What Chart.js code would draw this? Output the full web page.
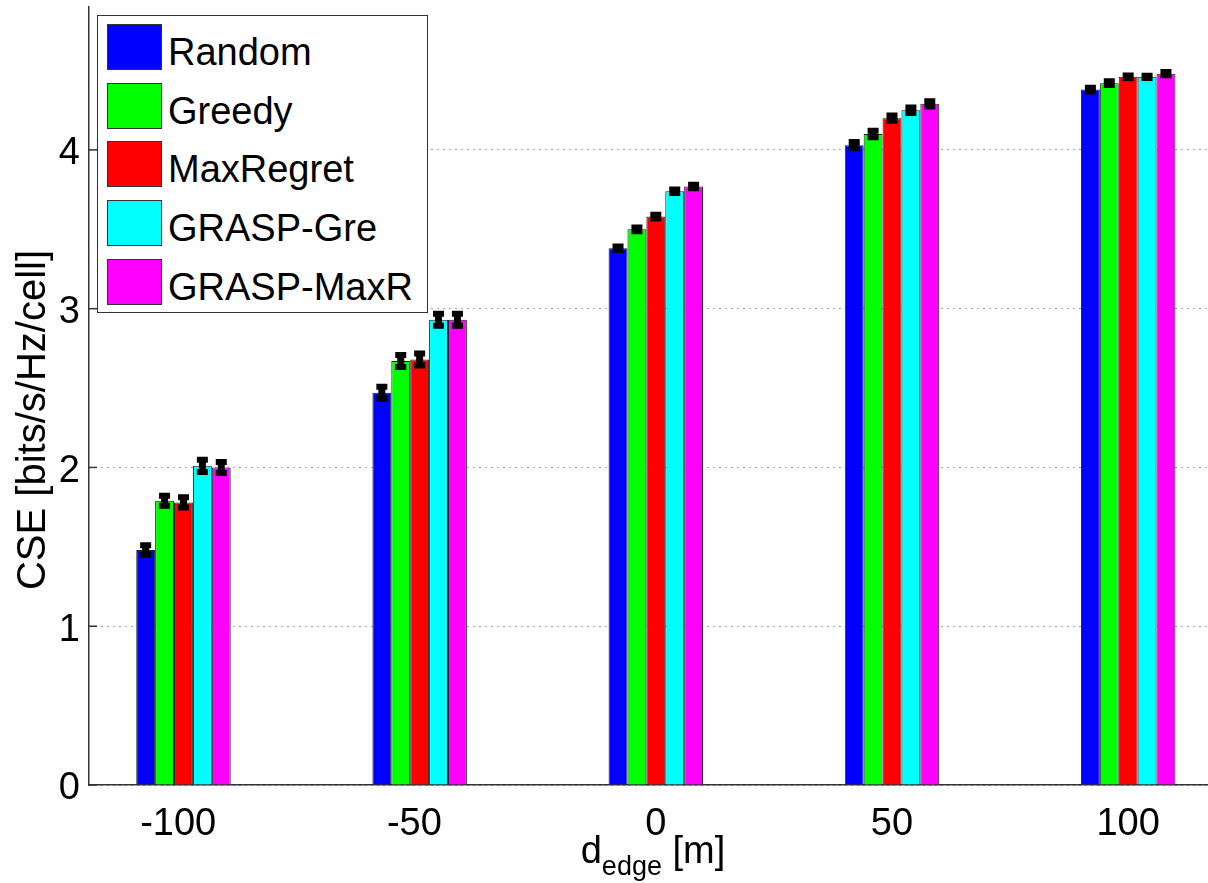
<!DOCTYPE html>
<html>
<head>
<meta charset="utf-8">
<script src="https://cdn.jsdelivr.net/npm/chart.js@4/dist/chart.umd.min.js"></script>
<style>
  html, body { margin: 0; padding: 0; background: #fff; overflow: hidden; }
  #wrap { position: relative; width: 1208px; height: 883px; overflow: hidden; font-family: "Liberation Sans", Arial, sans-serif; }
  #legend { position: absolute; left: 97px; top: 15px; width: 331px; height: 298px; box-sizing: border-box;
            border: 1.5px solid #333; background: #fff; padding-top: 8px; }
  .row { height: 58.7px; position: relative; }
  .sw { position: absolute; left: 9px; top: 0; width: 55px; height: 46px; box-sizing: border-box; border: 1.5px solid #333; }
  .lb { position: absolute; left: 70px; top: 5px; font-size: 38px; line-height: 46px; color: #000; white-space: nowrap; }
  #ytitle { position: absolute; left: -219px; top: 400px; width: 500px; height: 40px; line-height: 40px; font-size: 40px;
            text-align: center; transform: rotate(-90deg); color: #000; white-space: nowrap; }
  #xtitle { position: absolute; left: 503px; top: 831px; width: 300px; line-height: 38px; font-size: 38px; text-align: center; color: #000; white-space: nowrap; }
  #xtitle sub { font-size: 27px; vertical-align: -12px; line-height: 0; }
</style>
</head>
<body>
<div id="wrap">
  <canvas id="chart" width="1208" height="883"></canvas>
  <div id="legend"></div>
  <div id="ytitle">CSE [bits/s/Hz/cell]</div>
  <div id="xtitle">d<sub>edge</sub> [m]</div>
</div>
<script>
// ---------- data ----------
const categories = [-100, -50, 0, 50, 100];
const yTicks = [0, 1, 2, 3, 4];
const seriesNames = ['Random', 'Greedy', 'MaxRegret', 'GRASP-Gre', 'GRASP-MaxR'];
const seriesColors = ['#0000ff', '#00ff00', '#ff0000', '#00ffff', '#ff00ff'];

const random    = [1.48, 2.47, 3.38, 4.03, 4.38];
const greedy    = [1.79, 2.67, 3.50, 4.10, 4.42];
const maxRegret = [1.78, 2.68, 3.58, 4.20, 4.46];
const graspGre  = [2.01, 2.93, 3.74, 4.25, 4.46];
const graspMaxR = [2.00, 2.93, 3.77, 4.29, 4.48];

// half-width of the confidence intervals
const randomErr    = [0.030, 0.038, 0.011, 0.019, 0.012];
const greedyErr    = [0.031, 0.038, 0.012, 0.020, 0.012];
const maxRegretErr = [0.032, 0.038, 0.012, 0.016, 0.008];
const graspGreErr  = [0.038, 0.038, 0.011, 0.017, 0.007];
const graspMaxRErr = [0.035, 0.038, 0.011, 0.017, 0.010];

const seriesValues = [random, greedy, maxRegret, graspGre, graspMaxR];
const seriesErrors = [randomErr, greedyErr, maxRegretErr, graspGreErr, graspMaxRErr];

// ---------- legend (html) ----------
const legendEl = document.getElementById('legend');
seriesNames.forEach((name, i) => {
  const row = document.createElement('div');
  row.className = 'row';
  row.innerHTML = `<div class="sw" style="background:${seriesColors[i]}"></div><div class="lb">${name}</div>`;
  legendEl.appendChild(row);
});

// ---------- error bars ----------
const errorBars = {
  id: 'errorBars',
  afterDatasetsDraw(chart) {
    const ctx = chart.ctx;
    const y = chart.scales.y;
    ctx.save();
    ctx.strokeStyle = '#000';
    chart.data.datasets.forEach((ds, di) => {
      const meta = chart.getDatasetMeta(di);
      meta.data.forEach((bar, i) => {
        const v = ds.data[i], e = seriesErrors[di][i];
        const top = y.getPixelForValue(v + e);
        const bot = y.getPixelForValue(v - e);
        ctx.lineWidth = 7;
        ctx.beginPath();
        ctx.moveTo(bar.x, top);
        ctx.lineTo(bar.x, bot);
        ctx.stroke();
        ctx.lineWidth = 6;
        ctx.beginPath();
        ctx.moveTo(bar.x - 5.5, top); ctx.lineTo(bar.x + 5.5, top);
        ctx.moveTo(bar.x - 5.5, bot); ctx.lineTo(bar.x + 5.5, bot);
        ctx.stroke();
      });
    });
    // inward y tick marks
    const a = chart.chartArea;
    ctx.lineWidth = 1.5;
    ctx.strokeStyle = '#333';
    yTicks.forEach(t => {
      const py = y.getPixelForValue(t);
      ctx.beginPath();
      ctx.moveTo(a.left, py);
      ctx.lineTo(a.left + 8, py);
      ctx.stroke();
    });
    ctx.restore();
  }
};

// ---------- chart ----------
new Chart(document.getElementById('chart'), {
  type: 'bar',
  data: {
    labels: categories,
    datasets: seriesNames.map((name, i) => ({
      label: name,
      data: seriesValues[i],
      backgroundColor: seriesColors[i],
      borderColor: '#222',
      borderWidth: 1,
      categoryPercentage: 0.4,
      barPercentage: 1.0
    }))
  },
  options: {
    responsive: false,
    animation: false,
    devicePixelRatio: 1,
    layout: { padding: { top: 7, left: 0, right: 0, bottom: 0 } },
    plugins: { legend: { display: false }, tooltip: { enabled: false } },
    scales: {
      x: {
        type: 'linear',
        offset: false,
        min: -120,
        max: 116.9,
        afterBuildTicks: s => { s.ticks = categories.map(v => ({ value: v })); },
        afterFit: s => { s.height = 98; s.paddingLeft = 0; s.paddingRight = 0; },
        grid: { display: false, drawTicks: false, offset: false },
        border: { display: true, color: '#333', width: 1.5 },
        ticks: {
          color: '#000',
          padding: 17,
          maxRotation: 0,
          // matlab centres the digits, the minus sign hangs to the left
          callback: v => (v < 0 ? v + ' ' : String(v)),
          font: { family: 'Liberation Sans', size: 38 }
        }
      },
      y: {
        min: 0,
        max: 4.9,
        afterBuildTicks: s => { s.ticks = yTicks.map(v => ({ value: v })); },
        afterFit: s => { s.width = 89; s.paddingTop = 0; s.paddingBottom = 0; },
        grid: { color: '#555', lineWidth: 1, drawTicks: false },
        border: { display: true, color: '#333', width: 1.5, dash: [1, 5] },
        ticks: {
          color: '#000',
          padding: 9,
          labelOffset: 4,
          font: { family: 'Liberation Sans', size: 38 }
        }
      }
    }
  },
  plugins: [errorBars]
});
</script>
</body>
</html>
